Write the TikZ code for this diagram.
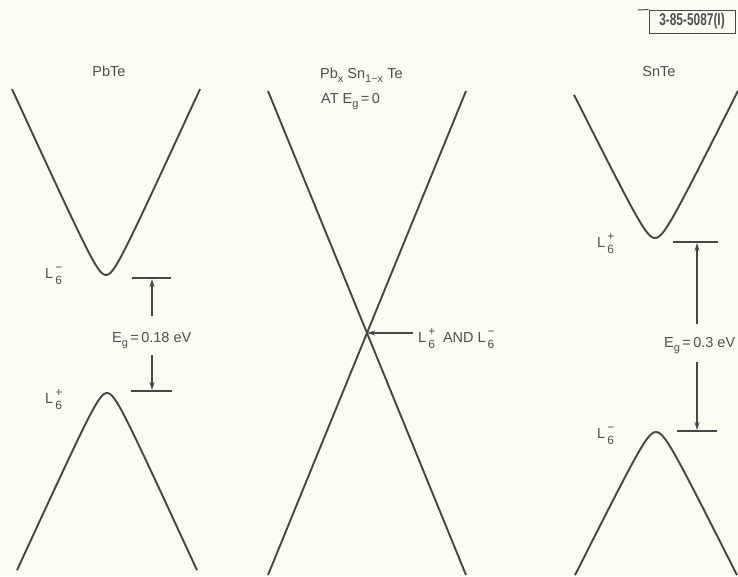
\documentclass[tikz,border=0pt]{standalone}
\usepackage{fontspec}
\setmainfont{Liberation Sans}
\usetikzlibrary{arrows.meta}
\definecolor{bg}{HTML}{FCFCF3}
\definecolor{ink}{HTML}{464646}
\definecolor{txt}{HTML}{4E4E4E}
\newcommand{\smallsz}{\fontsize{11}{11}\selectfont}
\newcommand{\Lsz}{\fontsize{12}{12}\selectfont}
\newcommand{\Lsix}[1]{L\rlap{\raisebox{0.85ex}{\Lsz\,#1}}\raisebox{-0.8ex}{\Lsz\,6}}
\newcommand{\Egap}{E\raisebox{-0.6ex}{\smallsz g}}
\newcommand{\subx}[1]{\raisebox{-0.6ex}{\smallsz #1}}
\begin{document}
\begin{tikzpicture}[x=1pt,y=-1pt,
  band/.style={draw=ink,line width=1.9pt,line join=round},
  gapline/.style={draw=ink,line width=1.1pt},
  gaparrow/.style={draw=ink,line width=1.1pt,-{Stealth[length=8pt,width=5pt]}},
  lbl/.style={text=txt,font=\fontsize{14.5}{16}\selectfont,inner sep=0pt}]
\fill[bg] (0,0) rectangle (738,576);
\useasboundingbox (0,0) rectangle (738,576);

% PbTe bands
\draw[band] plot[domain=12:200,samples=120] (\x,{275-10*(sqrt(4+(0.218*(\x-106))^2)-2)});
\draw[band] plot[domain=17:197,samples=120] (\x,{393+10*(sqrt(4+(0.218*(\x-107))^2)-2)});
% middle crossing
\draw[band] (268,91) -- (466,575);
\draw[band] (466,91) -- (268,575);
\coordinate (cross) at (367,333);
% SnTe bands
\draw[band] plot[domain=574:738,samples=120] (\x,{238-10*(sqrt(4+(0.2*(\x-655))^2)-2)});
\draw[band] plot[domain=575:737,samples=120] (\x,{432+10*(sqrt(4+(0.2*(\x-656))^2)-2)});

% titles
\node[lbl,anchor=base] (tpb) at (109,76) {PbTe};
\node[lbl,anchor=base west] (tmid) at (320,78) {Pb\subx{x} Sn\subx{1−x} Te};
\node[lbl,anchor=base west] (tat) at (321,103) {AT \Egap\,=\,0};
\node[lbl,anchor=base] (tsn) at (659,76) {SnTe};

% PbTe gap
\coordinate (pct1) at (132,278); \coordinate (pct2) at (171,278);
\coordinate (pvt1) at (131,391); \coordinate (pvt2) at (172,391);
\draw[gapline] (pct1) -- (pct2);
\draw[gapline] (pvt1) -- (pvt2);
\node[lbl,anchor=base west] (egpb) at (112,342) {\Egap\,=\,0.18 eV};
\coordinate (pa1) at (152,316); \coordinate (pa1e) at (152,279);
\coordinate (pa2) at (152,355); \coordinate (pa2e) at (152,390);
\draw[gaparrow] (pa1) -- (pa1e);
\draw[gaparrow] (pa2) -- (pa2e);
\node[lbl,anchor=base west] (lpb1) at (45,278) {\Lsix{−}};
\node[lbl,anchor=base west] (lpb2) at (45,403) {\Lsix{+}};

% middle label
\coordinate (ma) at (413,333);
\draw[gaparrow] (ma) -- (cross);
\node[lbl,anchor=base west] (lmid) at (418,342) {\Lsix{+}\ \ AND \Lsix{−}};

% SnTe gap
\coordinate (sct1) at (673,242); \coordinate (sct2) at (718,242);
\coordinate (svt1) at (677,431); \coordinate (svt2) at (717,431);
\draw[gapline] (sct1) -- (sct2);
\draw[gapline] (svt1) -- (svt2);
\node[lbl,anchor=base west] (egsn) at (664,347) {\Egap\,=\,0.3 eV};
\coordinate (sa1) at (697,324); \coordinate (sa1e) at (697,243);
\coordinate (sa2) at (697,362); \coordinate (sa2e) at (697,430);
\draw[gaparrow] (sa1) -- (sa1e);
\draw[gaparrow] (sa2) -- (sa2e);
\node[lbl,anchor=base west] (lsn1) at (597,247) {\Lsix{+}};
\node[lbl,anchor=base west] (lsn2) at (597,438) {\Lsix{−}};

% figure number box
\node[draw=ink,line width=1pt,text=txt,inner sep=0pt,minimum width=86pt,minimum height=23pt,font=\fontsize{17}{17}\selectfont\bfseries] (fig) at (692,21.5) {\scalebox{0.7}[1]{3-85-5087(I)}};
\coordinate (figl) at (638,10);
\draw[ink,line width=1pt] (figl) -- (fig.north west);
\end{tikzpicture}
\end{document}
